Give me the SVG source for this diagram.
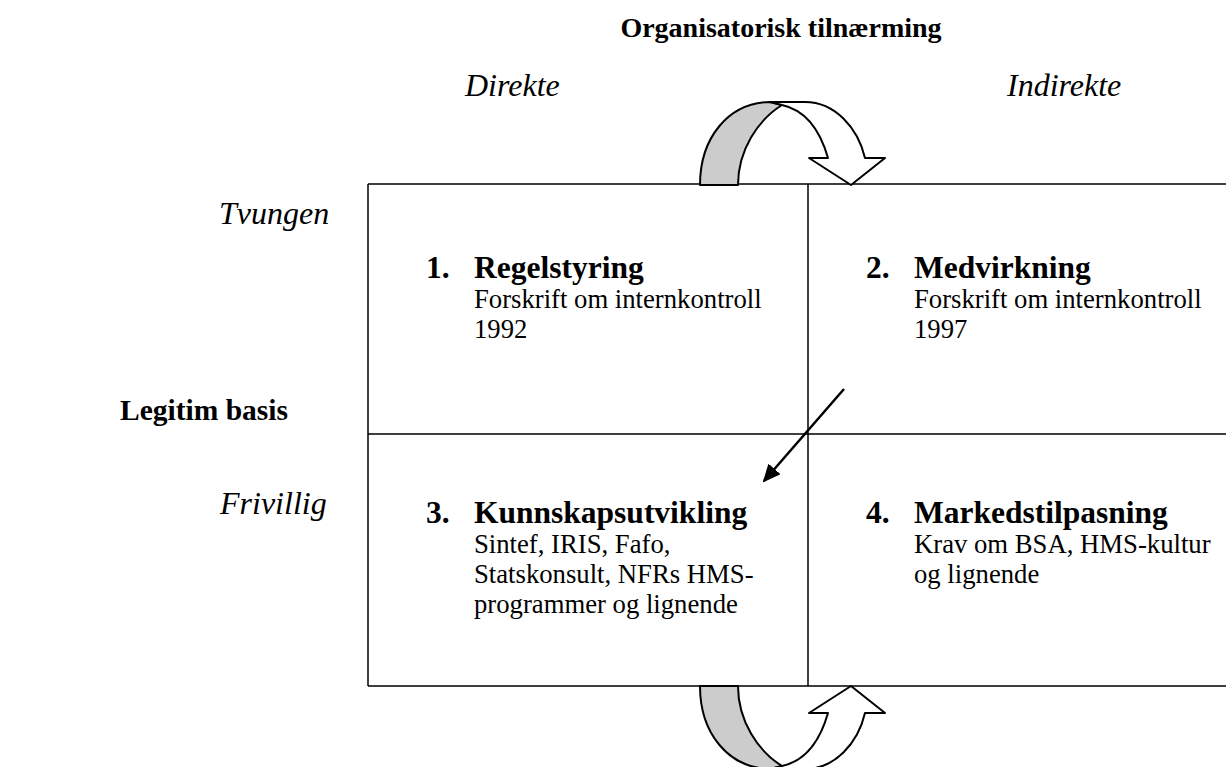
<svg xmlns="http://www.w3.org/2000/svg" width="1226" height="767" viewBox="0 0 1226 767">
<style>
text{font-family:"Liberation Serif","Times New Roman",serif;fill:#000}
.t{font-weight:bold;font-size:28px}
.i{font-style:italic;font-size:32px}
.h{font-weight:bold;font-size:31.5px}
.b{font-size:26.7px}
.ln{stroke:#000;stroke-width:1.5;fill:none}
.rib{stroke:#000;stroke-width:2;stroke-linejoin:round}
</style>
<defs>
<marker id="ah" markerWidth="18" markerHeight="16" refX="16" refY="8" orient="auto" markerUnits="userSpaceOnUse" viewBox="0 0 18 16">
<path d="M0,0 L18,8 L0,16 Z" fill="#000"/>
</marker>
<g id="curl">
<path class="rib" fill="#ccc" d="M700,185 C700,138 728,103 770,102 L782,105 C758,120 738,150 738,185 Z"/>
<path class="rib" fill="#fff" d="M770,102 L805,102 C835,102 858,128 865,158 L885,158 L851,185 L809,158 L828,158 C820,130 805,110 782,105 Z"/>
</g>
</defs>
<g id="title"><text class="t" x="781" y="37" text-anchor="middle">Organisatorisk tilnærming</text></g>
<g id="col-labels">
<text class="i" x="465" y="96">Direkte</text>
<text class="i" x="1007" y="96">Indirekte</text>
</g>
<g id="row-labels">
<text class="i" x="219" y="224">Tvungen</text>
<text class="i" x="220" y="514">Frivillig</text>
<text class="t" x="120" y="420" style="font-size:29.5px">Legitim basis</text>
</g>
<g id="grid">
<path class="ln" d="M368,184 H1226 M368,434 H1226 M368,686 H1226 M368,184 V686 M808,184 V686"/>
</g>
<g id="q1">
<text class="h" x="426" y="278">1.</text>
<text class="h" x="474" y="278">Regelstyring</text>
<text class="b" x="474" y="308">Forskrift om internkontroll</text>
<text class="b" x="474" y="338">1992</text>
</g>
<g id="q2">
<text class="h" x="866" y="278">2.</text>
<text class="h" x="914" y="278">Medvirkning</text>
<text class="b" x="914" y="308">Forskrift om internkontroll</text>
<text class="b" x="914" y="338">1997</text>
</g>
<g id="q3">
<text class="h" x="426" y="523">3.</text>
<text class="h" x="474" y="523">Kunnskapsutvikling</text>
<text class="b" x="474" y="553">Sintef, IRIS, Fafo,</text>
<text class="b" x="474" y="583">Statskonsult, NFRs HMS-</text>
<text class="b" x="474" y="613">programmer og lignende</text>
</g>
<g id="q4">
<text class="h" x="866" y="523">4.</text>
<text class="h" x="914" y="523">Markedstilpasning</text>
<text class="b" x="914" y="553">Krav om BSA, HMS-kultur</text>
<text class="b" x="914" y="583">og lignende</text>
</g>
<g id="connectors">
<use href="#curl"/>
<use href="#curl" transform="matrix(1,0,0,-1,0,871)"/>
<line x1="844" y1="389" x2="764" y2="481" stroke="#000" stroke-width="2.5" marker-end="url(#ah)"/>
</g>
</svg>
